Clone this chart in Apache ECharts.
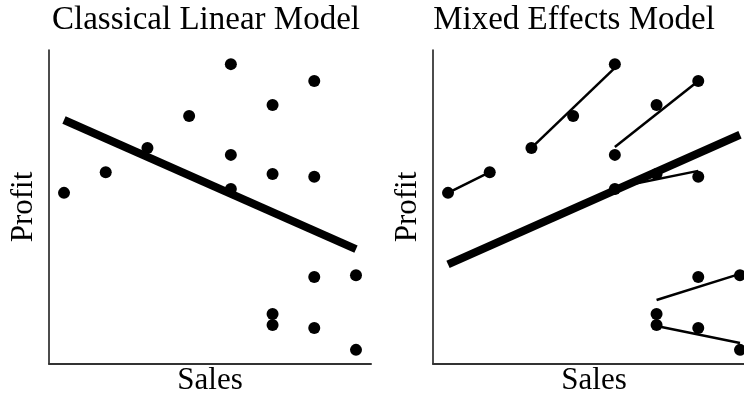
<!DOCTYPE html>
<html>
<head>
<meta charset="utf-8">
<script src="https://cdn.jsdelivr.net/npm/echarts@6/dist/echarts.min.js"></script>
<style>html,body{margin:0;padding:0;background:#fff}#c{width:744px;height:398px}</style>
</head>
<body>
<div id="c"></div>
<script>
// ---- data ----
var titles = ['Classical Linear Model', 'Mixed Effects Model'];
var xName = 'Sales';
var yName = 'Profit';
var sales  = [1, 2, 3, 4, 5, 5, 5, 6, 6, 6, 6, 7, 7, 7, 7, 8, 8];
var profit = [5.45, 6.11, 6.88, 7.90, 9.55, 6.66, 5.57, 8.25, 6.05, 1.59, 1.24, 9.01, 5.96, 2.77, 1.15, 2.83, 0.45];
var classicalFitX = [1, 8];
var classicalFitY = [7.77, 3.66];
var mixedFitX = [1, 8];
var mixedFitY = [3.17, 7.30];
var groupAX = [1, 2], groupAY = [5.45, 6.11];
var groupBX = [3, 5], groupBY = [6.88, 9.43];
var groupCX = [5, 7], groupCY = [6.91, 9.01];
var groupDX = [5, 7], groupDY = [5.61, 6.15];
var groupEX = [6, 8], groupEY = [2.04, 2.87];
var groupFX = [6, 8], groupFY = [1.21, 0.67];

// ---- build ----
function pairs(xs, ys) { return xs.map(function (x, i) { return [x, ys[i]]; }); }
var points = pairs(sales, profit);
var groups = [[groupAX, groupAY], [groupBX, groupBY], [groupCX, groupCY], [groupDX, groupDY], [groupEX, groupEY], [groupFX, groupFY]];

var FONT = 'Liberation Serif';
var chart = echarts.init(document.getElementById('c'), null, { renderer: 'canvas' });

function xAx(i) {
  return {
    gridIndex: i, type: 'value', min: 0.64, max: 8.36,
    name: xName, nameLocation: 'middle', nameGap: 1,
    nameTextStyle: { fontFamily: FONT, fontSize: 31, color: '#000', lineHeight: 31 },
    axisLine: { show: true, onZero: false, lineStyle: { color: '#333', width: 2 } },
    axisTick: { show: false }, axisLabel: { show: false }, splitLine: { show: false }
  };
}
function yAx(i) {
  return {
    gridIndex: i, type: 'value', min: 0, max: 10,
    name: yName, nameLocation: 'middle', nameGap: 10, nameRotate: 90,
    nameTextStyle: { fontFamily: FONT, fontSize: 31, color: '#000', lineHeight: 31 },
    axisLine: { show: true, onZero: false, lineStyle: { color: '#111', width: 1.5 } },
    axisTick: { show: false }, axisLabel: { show: false }, splitLine: { show: false }
  };
}
function lineSeries(i, data, w) {
  return {
    type: 'line', xAxisIndex: i, yAxisIndex: i, data: data, symbol: 'none',
    lineStyle: { color: '#000', width: w, cap: 'butt', opacity: 1 }, silent: true, z: 3
  };
}
function dots(i) {
  return { type: 'scatter', xAxisIndex: i, yAxisIndex: i, data: points, symbolSize: 12,
    itemStyle: { color: '#000', opacity: 1 }, z: 2 };
}

var series = [dots(0), lineSeries(0, pairs(classicalFitX, classicalFitY), 8), dots(1)];
groups.forEach(function (g) { series.push(lineSeries(1, pairs(g[0], g[1]), 2.5)); });
series.push(lineSeries(1, pairs(mixedFitX, mixedFitY), 8));

chart.setOption({
  animation: false,
  backgroundColor: '#fff',
  title: [
    { text: titles[0], left: 206, top: 4, textAlign: 'center', padding: 0,
      textStyle: { fontFamily: FONT, fontSize: 33, fontWeight: 'normal', color: '#000', lineHeight: 33 } },
    { text: titles[1], left: 574, top: 4, textAlign: 'center', padding: 0,
      textStyle: { fontFamily: FONT, fontSize: 33, fontWeight: 'normal', color: '#000', lineHeight: 33 } }
  ],
  grid: [
    { left: 49, top: 50, width: 322, height: 314, outerBoundsMode: 'none', containLabel: false },
    { left: 433, top: 50, width: 322, height: 314, outerBoundsMode: 'none', containLabel: false }
  ],
  xAxis: [xAx(0), xAx(1)],
  yAxis: [yAx(0), yAx(1)],
  series: series
});
</script>
</body>
</html>
